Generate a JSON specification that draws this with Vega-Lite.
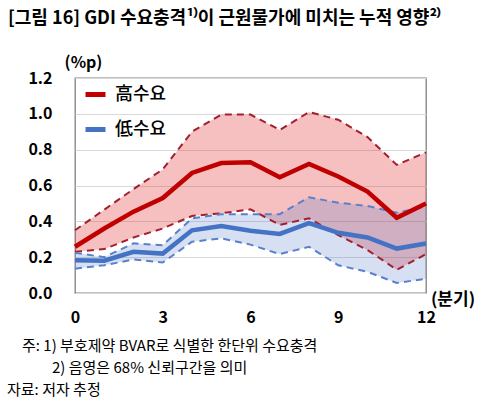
{
  "$schema": "https://vega.github.io/schema/vega-lite/v6.json",
  "width": 351,
  "height": 215,
  "autosize": {"type": "none"},
  "padding": {"left": 75, "top": 78, "right": 74, "bottom": 108},
  "background": "white",
  "title": {
    "text": "[그림 16] GDI 수요충격¹⁾이 근원물가에 미치는 누적 영향²⁾",
    "anchor": "start",
    "frame": "group",
    "dx": -67,
    "offset": 26,
    "font": "Noto Sans CJK KR",
    "fontSize": 18,
    "fontWeight": "bold",
    "color": "#000000"
  },
  "config": {
    "view": {"stroke": "#808080", "strokeWidth": 1.3},
    "font": "Noto Sans CJK KR"
  },
  "data": {
    "values": [
      {"q": 0, "series": "高수요", "mean": 0.258, "lo": 0.23, "hi": 0.35},
      {"q": 1, "series": "高수요", "mean": 0.36, "lo": 0.245, "hi": 0.465},
      {"q": 2, "series": "高수요", "mean": 0.454, "lo": 0.31, "hi": 0.58},
      {"q": 3, "series": "高수요", "mean": 0.53, "lo": 0.36, "hi": 0.69},
      {"q": 4, "series": "高수요", "mean": 0.67, "lo": 0.43, "hi": 0.9},
      {"q": 5, "series": "高수요", "mean": 0.725, "lo": 0.445, "hi": 0.996},
      {"q": 6, "series": "高수요", "mean": 0.73, "lo": 0.467, "hi": 0.996},
      {"q": 7, "series": "高수요", "mean": 0.646, "lo": 0.38, "hi": 0.91},
      {"q": 8, "series": "高수요", "mean": 0.72, "lo": 0.417, "hi": 1.01},
      {"q": 9, "series": "高수요", "mean": 0.65, "lo": 0.323, "hi": 0.967},
      {"q": 10, "series": "高수요", "mean": 0.566, "lo": 0.24, "hi": 0.87},
      {"q": 11, "series": "高수요", "mean": 0.42, "lo": 0.13, "hi": 0.715},
      {"q": 12, "series": "高수요", "mean": 0.5, "lo": 0.217, "hi": 0.785},
      {"q": 0, "series": "低수요", "mean": 0.183, "lo": 0.136, "hi": 0.224},
      {"q": 1, "series": "低수요", "mean": 0.18, "lo": 0.155, "hi": 0.2},
      {"q": 2, "series": "低수요", "mean": 0.23, "lo": 0.187, "hi": 0.277},
      {"q": 3, "series": "低수요", "mean": 0.22, "lo": 0.17, "hi": 0.267},
      {"q": 4, "series": "低수요", "mean": 0.35, "lo": 0.286, "hi": 0.417},
      {"q": 5, "series": "低수요", "mean": 0.374, "lo": 0.305, "hi": 0.44},
      {"q": 6, "series": "低수요", "mean": 0.347, "lo": 0.27, "hi": 0.44},
      {"q": 7, "series": "低수요", "mean": 0.33, "lo": 0.217, "hi": 0.44},
      {"q": 8, "series": "低수요", "mean": 0.39, "lo": 0.258, "hi": 0.534},
      {"q": 9, "series": "低수요", "mean": 0.336, "lo": 0.155, "hi": 0.504},
      {"q": 10, "series": "低수요", "mean": 0.31, "lo": 0.118, "hi": 0.486},
      {"q": 11, "series": "低수요", "mean": 0.248, "lo": 0.056, "hi": 0.448},
      {"q": 12, "series": "低수요", "mean": 0.276, "lo": 0.08, "hi": 0.482}
    ]
  },
  "encoding": {
    "x": {
      "field": "q",
      "type": "quantitative",
      "scale": {"domain": [0, 12], "nice": false, "zero": false},
      "axis": {
        "values": [0, 3, 6, 9, 12],
        "grid": false,
        "domain": false,
        "ticks": false,
        "labelPadding": 16,
        "labelFont": "Noto Sans CJK KR",
        "labelFontSize": 16,
        "labelFontWeight": "bold",
        "labelColor": "#000000",
        "labelFlush": false,
        "title": null
      }
    },
    "y": {
      "field": "mean",
      "type": "quantitative",
      "scale": {"domain": [0, 1.2], "nice": false},
      "axis": {
        "values": [0, 0.2, 0.4, 0.6, 0.8, 1.0, 1.2],
        "format": ".1f",
        "grid": true,
        "gridColor": "#d9d9d9",
        "domain": false,
        "ticks": false,
        "labelPadding": 23,
        "labelFont": "Noto Sans CJK KR",
        "labelFontSize": 16,
        "labelFontWeight": "bold",
        "labelColor": "#000000",
        "title": "(%p)",
        "titleAngle": 0,
        "titleFont": "Noto Sans CJK KR",
        "titleFontSize": 16,
        "titleFontWeight": "bold",
        "titleColor": "#000000",
        "titleAlign": "center",
        "titleBaseline": "middle",
        "titleX": 8,
        "titleY": -16
      }
    }
  },
  "layer": [
    {
      "transform": [{"filter": "datum.series === '高수요'"}],
      "mark": {"type": "area", "color": "#e03030", "opacity": 0.3},
      "encoding": {"y": {"field": "lo", "type": "quantitative"}, "y2": {"field": "hi"}}
    },
    {
      "transform": [{"filter": "datum.series === '低수요'"}],
      "mark": {"type": "area", "color": "#4472c4", "opacity": 0.22},
      "encoding": {"y": {"field": "lo", "type": "quantitative"}, "y2": {"field": "hi"}}
    },
    {
      "transform": [{"filter": "datum.series === '高수요'"}],
      "mark": {"type": "line", "color": "#a31f2e", "strokeWidth": 2, "strokeDash": [7, 5]},
      "encoding": {"y": {"field": "hi", "type": "quantitative"}}
    },
    {
      "transform": [{"filter": "datum.series === '高수요'"}],
      "mark": {"type": "line", "color": "#a31f2e", "strokeWidth": 2, "strokeDash": [7, 5]},
      "encoding": {"y": {"field": "lo", "type": "quantitative"}}
    },
    {
      "transform": [{"filter": "datum.series === '低수요'"}],
      "mark": {"type": "line", "color": "#5a80cc", "strokeWidth": 2, "strokeDash": [7, 5]},
      "encoding": {"y": {"field": "hi", "type": "quantitative"}}
    },
    {
      "transform": [{"filter": "datum.series === '低수요'"}],
      "mark": {"type": "line", "color": "#5a80cc", "strokeWidth": 2, "strokeDash": [7, 5]},
      "encoding": {"y": {"field": "lo", "type": "quantitative"}}
    },
    {
      "mark": {"type": "line", "strokeWidth": 4.5},
      "encoding": {
        "y": {"field": "mean", "type": "quantitative"},
        "color": {
          "field": "series",
          "type": "nominal",
          "sort": ["高수요", "低수요"],
          "scale": {"domain": ["高수요", "低수요"], "range": ["#c00000", "#4472c4"]},
          "legend": {
            "title": null,
            "orient": "none",
            "legendX": 8,
            "legendY": 4,
            "padding": 0,
            "symbolType": "stroke",
            "symbolSize": 400,
            "symbolStrokeWidth": 5,
            "labelFont": "Noto Sans CJK KR",
            "labelFontSize": 18,
            "labelFontWeight": 500,
            "labelColor": "#000000",
            "labelOffset": 7,
            "rowPadding": 12
          }
        }
      }
    },
    {
      "data": {"values": [{"q": 12, "v": 0, "t": "(분기)"}]},
      "mark": {"type": "text", "dx": 27, "dy": 7, "align": "center", "baseline": "middle", "font": "Noto Sans CJK KR", "fontSize": 17, "fontWeight": "bold", "color": "#000000"},
      "encoding": {"y": {"field": "v", "type": "quantitative"}, "text": {"field": "t"}}
    },
    {
      "data": {"values": [{"q": 0, "v": 0, "t": "주: 1) 부호제약 BVAR로 식별한 한단위 수요충격"}]},
      "mark": {"type": "text", "dx": -53, "dy": 53, "align": "left", "baseline": "middle", "font": "Noto Sans CJK KR", "fontSize": 15, "fontWeight": "normal", "color": "#000000"},
      "encoding": {"y": {"field": "v", "type": "quantitative"}, "text": {"field": "t"}}
    },
    {
      "data": {"values": [{"q": 0, "v": 0, "t": "2) 음영은 68% 신뢰구간을 의미"}]},
      "mark": {"type": "text", "dx": -23, "dy": 75, "align": "left", "baseline": "middle", "font": "Noto Sans CJK KR", "fontSize": 15, "fontWeight": "normal", "color": "#000000"},
      "encoding": {"y": {"field": "v", "type": "quantitative"}, "text": {"field": "t"}}
    },
    {
      "data": {"values": [{"q": 0, "v": 0, "t": "자료: 저자 추정"}]},
      "mark": {"type": "text", "dx": -68, "dy": 97, "align": "left", "baseline": "middle", "font": "Noto Sans CJK KR", "fontSize": 15, "fontWeight": "normal", "color": "#000000"},
      "encoding": {"y": {"field": "v", "type": "quantitative"}, "text": {"field": "t"}}
    }
  ]
}
